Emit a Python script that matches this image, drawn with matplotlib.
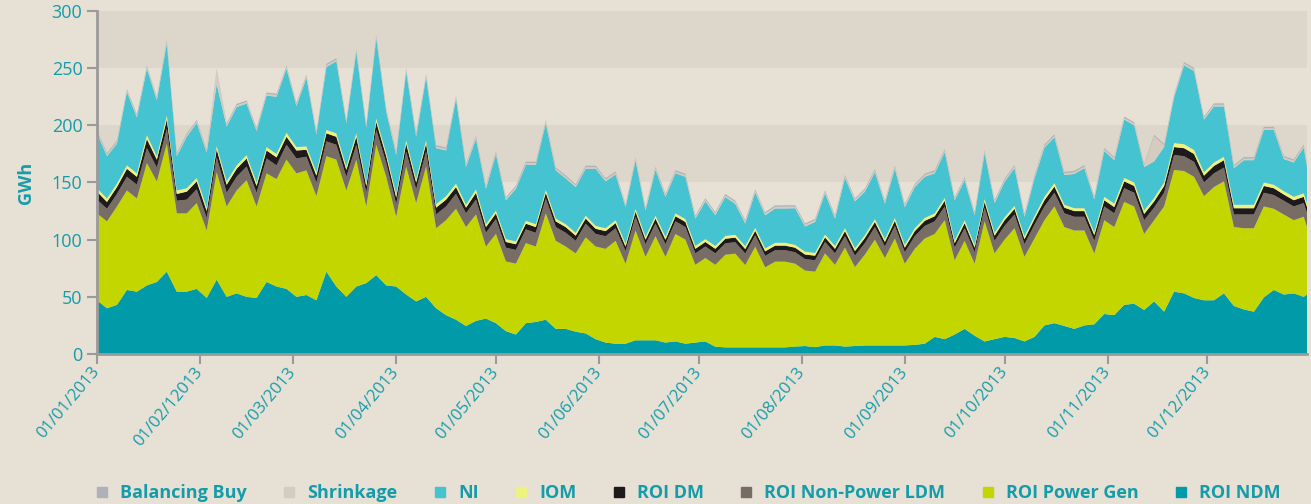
import matplotlib
matplotlib.use('Agg')
import matplotlib.pyplot as plt
from matplotlib.lines import Line2D
import pandas as pd

plt.rcParams['font.family'] = ['Open Sans', 'DejaVu Sans']

# sample dates, every 3 days through 2013
dates = list(pd.date_range('2013-01-01', '2013-12-30', freq='3D')) + [pd.Timestamp('2013-12-31')]

roi_ndm = [
    47, 40, 43, 56, 54.5, 60, 63, 72, 54.5, 54.5,
    57, 49, 65, 50, 53, 50, 49, 63, 59, 57,
    50, 51.6, 47, 72, 59, 50, 59, 62, 69, 60,
    59, 52, 46, 50, 40, 34, 30, 24.5, 29, 31,
    27, 20, 17, 27, 28, 30, 22, 22, 19.5, 18,
    13, 10, 9, 9, 12, 12, 12, 10, 11, 9,
    10, 11, 6.4, 5.8, 5.8, 5.8, 5.8, 5.8, 5.8, 5.8,
    6.5, 7, 6, 7.5, 7.5, 6.5, 7, 7.5, 7.5, 7.5,
    7.5, 7.5, 8, 9, 15, 13, 17, 22, 16, 11,
    13, 15, 14, 11, 15, 25, 27, 24.5, 22, 25,
    26, 35, 34, 43, 44, 38.5, 46, 37, 54.5, 53,
    49, 47, 47, 53, 42, 39, 37, 49.5, 56, 52,
    53, 50, 52]

roi_power_gen = [
    76, 76, 86, 87, 81.5, 107, 88, 112, 68.5, 68.5,
    75, 59, 94, 79, 90, 102, 80, 95, 94, 113,
    108, 109, 91, 101, 111, 93, 111, 67, 114, 95,
    61, 112, 86, 114, 70, 83, 97, 86.5, 93, 63,
    78, 61, 62, 70, 66, 93, 77, 72, 68.5, 84,
    81, 82, 90, 70, 96, 73, 91, 75, 94, 91,
    68, 73, 71.6, 81, 82, 72, 88, 70, 75, 75,
    72.5, 66, 66, 80.5, 70.5, 86.5, 69, 79.5, 92.5, 76.5,
    93.5, 71.5, 84, 92, 90, 104, 65, 77, 63, 105,
    75, 85, 96, 74, 86, 92, 102, 86.5, 86, 83,
    62, 82, 77, 90, 85, 66.5, 71, 92, 106.5, 107,
    106, 91, 99, 98, 69, 71, 73, 79.5, 71, 70,
    64, 70, 59]

roi_ldm = [
    12, 11, 11, 12, 12, 13, 12, 13, 11, 12,
    12, 11, 13, 12, 12, 12, 12, 13, 12, 13,
    13, 12, 12, 13, 13, 12, 13, 12, 13, 12,
    11, 13, 12, 13, 12, 12, 13, 12, 13, 12,
    13, 12, 12, 12, 12, 13, 12, 12, 11, 12,
    11, 11, 11, 11, 12, 11, 11, 11, 11, 11,
    10, 10, 10, 10, 10, 10, 10, 10, 10, 10,
    10, 10, 10, 10, 10, 10, 10, 10, 11, 10,
    11, 10, 11, 11, 11, 12, 11, 11, 10, 12,
    11, 12, 12, 11, 12, 12, 12, 12, 12, 12,
    11, 12, 12, 12, 12, 12, 11, 12, 13, 13,
    13, 12, 12, 12, 11, 12, 12, 12, 12, 12,
    12, 12, 12]

roi_dm = [
    7, 6, 6, 7, 7, 8, 7, 8, 6, 7,
    7, 6, 7, 7, 7, 7, 6, 7, 7, 7,
    7, 6, 6, 7, 7, 6, 7, 6, 7, 6,
    6, 7, 6, 7, 6, 6, 6, 5, 6, 5,
    5, 5, 5, 5, 5, 5, 5, 5, 4.5, 4.5,
    4.5, 4.5, 4.5, 4, 4.5, 4, 4.5, 4, 4.5, 4.5,
    4, 4, 4, 4, 4, 4, 4, 4, 4, 4,
    4, 4, 4, 4, 4, 4.5, 4, 4.5, 4.5, 4,
    4.5, 4, 4.5, 4.5, 4.5, 5, 4, 4.5, 4, 5,
    4.5, 5, 5, 4.5, 5, 5.5, 5.5, 5, 5, 5,
    5, 5.5, 5.5, 6, 6, 5.5, 5.5, 6, 7, 7,
    7, 6, 6.5, 6.5, 5.5, 5.5, 5.5, 6, 6, 5.5,
    5.5, 5.5, 5.5]

iom = [
    3, 3, 3, 3, 3, 3.5, 3, 3.5, 3, 3,
    3, 3, 3, 3, 3, 3, 3, 3, 3, 3.5,
    3, 3, 3, 3, 3, 3, 3, 3, 3, 3,
    3, 3, 3, 3, 3, 3, 3, 2.5, 3, 2.5,
    2.5, 2.5, 2.5, 2.5, 2.5, 2.5, 2.5, 2.5, 2.5, 2.5,
    2.5, 2.5, 2.5, 2.5, 2.5, 2.5, 2.5, 2.5, 2.5, 2.5,
    2.5, 2.5, 2.5, 2.5, 2.5, 2.5, 2.5, 2.5, 2.5, 2.5,
    2.5, 2.5, 2.5, 2.5, 2.5, 2.5, 2.5, 2.5, 2.5, 2.5,
    2.5, 2.5, 2.5, 2.5, 2.5, 2.5, 2.5, 2.5, 2.5, 2.5,
    2.5, 2.5, 2.5, 2.5, 2.5, 3, 3, 2.5, 2.5, 2.5,
    2.5, 3, 3, 3, 3, 3, 3, 3, 3.5, 3.5,
    3.5, 3, 3, 3, 3, 3, 3, 3, 3, 3,
    3, 3, 3]

ni = [
    48, 37, 35, 64, 49, 58, 49, 63, 30, 45,
    48, 48, 54, 48, 51, 45, 45, 45, 50, 56,
    36, 60, 33, 55, 63, 38, 71, 48, 70, 36,
    34, 60, 37, 55, 49, 40, 74, 33, 44, 31,
    49, 34, 46, 49, 52, 58, 42, 40, 40, 41,
    50, 41, 40, 32, 42, 23, 40, 35, 35, 37,
    24, 33, 27, 34, 27, 20, 31, 29, 30, 30,
    32, 22, 27, 36, 24, 44, 41, 38, 41, 31,
    43, 33, 36, 36, 35, 40, 35, 35, 26, 40,
    26, 31, 33, 17, 33, 43, 40, 26, 30, 35,
    29, 40, 38, 51, 50, 38, 32, 31, 40, 69,
    69, 46, 49, 44, 32, 39, 39, 46, 48, 28,
    30, 40, 32]

shrinkage = [
    1.5, 1.5, 1.5, 1.5, 1.5, 1.5, 1.5, 2, 1.5, 1.5,
    1.5, 1.5, 12, 1.5, 1.5, 1.5, 1.5, 1.5, 1.5, 1.5,
    1.5, 1.5, 1.5, 1.5, 1.5, 1.5, 1.5, 1.5, 1.5, 1.5,
    1.5, 1.5, 1.5, 1.5, 1.5, 1.5, 1.5, 1.5, 1.5, 1.5,
    1.5, 1.5, 1.5, 1.5, 1.5, 1.5, 1.5, 1.5, 1.5, 1.5,
    1.5, 1.5, 1.5, 1.5, 1.5, 1.5, 1.5, 1.5, 1.5, 1.5,
    1.5, 1.5, 1.5, 1.5, 1.5, 1.5, 1.5, 1.5, 1.5, 1.5,
    1.5, 1.5, 1.5, 1.5, 1.5, 1.5, 1.5, 1.5, 1.5, 1.5,
    1.5, 1.5, 1.5, 1.5, 1.5, 1.5, 1.5, 1.5, 1.5, 1.5,
    1.5, 1.5, 1.5, 1.5, 1.5, 1.5, 1.5, 1.5, 1.5, 1.5,
    1.5, 1.5, 1.5, 1.5, 1.5, 1.5, 22, 1.5, 1.5, 1.5,
    1.5, 1.5, 1.5, 1.5, 1.5, 1.5, 1.5, 1.5, 1.5, 1.5,
    1.5, 1.5, 1.5]

balancing_buy = [1.2] * len(dates)

labels = ['ROI NDM', 'ROI Power Gen', 'ROI Non-Power LDM', 'ROI DM', 'IOM', 'NI',
          'Shrinkage', 'Balancing Buy']
colors = ['#009AA8', '#C4D600', '#786D65', '#1E1A1B', '#EEF27E', '#45C3D0',
          '#D4CCBF', '#AEB1B8']
tick_labels = ['01/01/2013', '01/02/12013', '01/03/2013', '01/04/2013', '01/05/2013',
               '01/06/2013', '01/07/2013', '01/08/2013', '01/09/2013', '01/10/2013',
               '01/11/2013', '01/12/2013']

teal = '#159CAA'
bg = '#E6E0D5'
band = '#DDD6CA'

fig = plt.figure(figsize=(13.11, 5.04), dpi=100, facecolor=bg)
ax = fig.add_axes([0.074, 0.2976, 0.923, 0.6806])
ax.set_facecolor(bg)

for lo in (50, 150, 250):
    ax.axhspan(lo, lo + 50, color=band, lw=0, zorder=0)

ax.stackplot(dates, roi_ndm, roi_power_gen, roi_ldm, roi_dm, iom, ni, shrinkage,
             balancing_buy, colors=colors, lw=0, zorder=2)

ax.set_ylim(0, 300)
ax.set_xlim(pd.Timestamp('2013-01-01'), pd.Timestamp('2013-12-31'))
ax.set_yticks(range(0, 301, 50))
ax.tick_params(axis='y', colors='#9A9A9A', labelcolor=teal, labelsize=13, length=7, width=1.5)
ticks = pd.date_range('2013-01-01', periods=12, freq='MS')
ax.set_xticks(ticks)
ax.set_xticklabels(tick_labels, rotation=50, ha='right', va='center', rotation_mode='anchor')
ax.tick_params(axis='x', colors='#9A9A9A', labelcolor=teal, labelsize=12, length=7, width=1.5, pad=4)

for s in ('top', 'right'):
    ax.spines[s].set_visible(False)
for s in ('left', 'bottom'):
    ax.spines[s].set_color('#9A9A9A')
    ax.spines[s].set_linewidth(2)
    ax.spines[s].set_zorder(3)

ax.set_ylabel('GWh', color=teal, fontsize=13, fontweight='bold', labelpad=12)

handles = [Line2D([], [], marker='s', ls='', color=c, markersize=7) for c in colors[::-1]]
leg = fig.legend(handles, labels[::-1], loc='center', bbox_to_anchor=(0.524, 0.022), ncol=8,
                 frameon=False, handlelength=1.0, handletextpad=0.5, columnspacing=1.85,
                 prop={'weight': 'bold', 'size': 13})
for t in leg.get_texts():
    t.set_color(teal)

fig.savefig('out.png', dpi=100, facecolor=bg)
